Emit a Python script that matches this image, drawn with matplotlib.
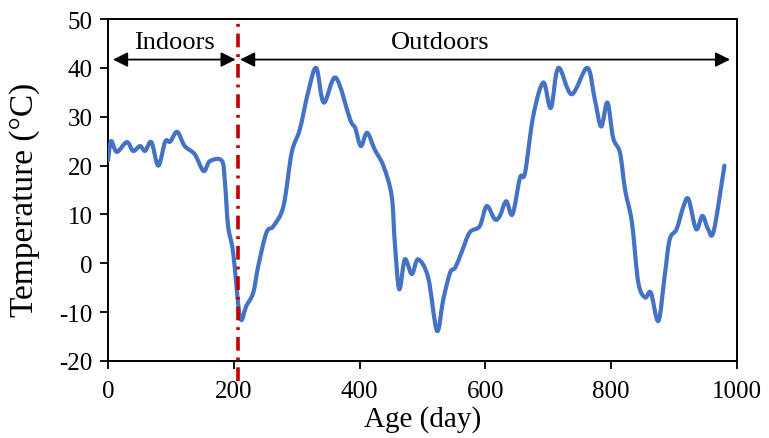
import matplotlib.pyplot as plt
from matplotlib.path import Path
from matplotlib.patches import PathPatch

plt.rcParams['font.family'] = ['Liberation Serif', 'DejaVu Serif']
plt.rcParams['axes.unicode_minus'] = False

# temperature record
age_days = [0, 5, 14, 30, 40, 51, 59, 69, 80, 91, 99, 110, 122, 138, 152, 162,
            181, 186, 191, 199, 210, 220, 231, 239, 252, 263, 279, 292, 305, 318,
            331, 343, 362, 385, 393, 402, 412, 424, 438, 451, 456, 463, 472, 483,
            493, 509, 523, 533, 544, 552, 562, 575, 591, 602, 615, 623, 633, 643,
            655, 663, 676, 692, 704, 716, 737, 762, 774, 784, 794, 803, 814, 822,
            833, 843, 854, 863, 875, 885, 893, 904, 915, 923, 935, 945, 954, 963,
            980]
temp_c = [21, 25, 22.8, 24.8, 23, 24, 23, 24.8, 20, 24.9, 24.9, 26.9, 24, 22.3,
          18.9, 20.9, 21, 16.5, 7.6, 2.2, -11.1, -8.7, -6, -0.5, 6.3, 7.6, 11.7,
          22.6, 27.4, 34.9, 40, 32.9, 38, 29.4, 27.7, 24, 26.7, 23.3, 19.9, 13.8,
          4.2, -5.3, 0.8, -2.2, 0.8, -2.9, -13.8, -7.4, -1.9, -0.9, 2.2, 6.3, 7.6,
          11.7, 9, 9.7, 12.7, 10, 17.5, 18.5, 30.1, 37, 31.8, 40, 34.6, 40, 33.5,
          28, 32.9, 25.7, 22.6, 15.1, 8.3, -3.9, -7, -6, -11.8, -2.6, 4.9, 7, 11.7,
          13.1, 7, 9.7, 7, 6.6, 20]

split_day = 207
indoor_span = (8, 203)
outdoor_span = (210, 989)
arrow_y = 41.7


def smooth_path(xs, ys):
    """Catmull-Rom curve through the points, as cubic Bezier segments."""
    pts = list(zip(xs, ys))
    verts = [pts[0]]
    codes = [Path.MOVETO]
    n = len(pts)
    for i in range(n - 1):
        p0 = pts[i - 1] if i > 0 else pts[i]
        p1 = pts[i]
        p2 = pts[i + 1]
        p3 = pts[i + 2] if i + 2 < n else pts[i + 1]
        c1 = (p1[0] + (p2[0] - p0[0]) / 6, p1[1] + (p2[1] - p0[1]) / 6)
        c2 = (p2[0] - (p3[0] - p1[0]) / 6, p2[1] - (p3[1] - p1[1]) / 6)
        verts += [c1, c2, p2]
        codes += [Path.CURVE4] * 3
    return Path(verts, codes)


fig = plt.figure(figsize=(7.69, 4.39), dpi=100)
ax = fig.add_axes([0.1404, 0.1754, 0.818, 0.779])

ax.add_patch(PathPatch(smooth_path(age_days, temp_c), fill=False,
                       edgecolor='#4472C4', lw=3.0, capstyle='round',
                       joinstyle='round', zorder=3))

ax.plot([split_day, split_day], [-24.0, 50.4], color='#C00000', lw=2.6,
        ls=(0, (3.8, 1.9, 0.8, 1.9)), clip_on=False, zorder=4)

arrow_kw = dict(arrowstyle='<|-|>', color='black', lw=1.3,
                mutation_scale=22, shrinkA=0, shrinkB=0)
ax.annotate('', xy=(indoor_span[0], arrow_y), xytext=(indoor_span[1], arrow_y),
            arrowprops=arrow_kw)
ax.annotate('', xy=(outdoor_span[0], arrow_y), xytext=(outdoor_span[1], arrow_y),
            arrowprops=arrow_kw)
ax.text(106, 45.3, 'Indoors', ha='center', va='center', fontsize=19)
ax.text(528, 45.3, 'Outdoors', ha='center', va='center', fontsize=19)

ax.set_xlim(0, 1000)
ax.set_ylim(-20, 50)
ax.set_xticks(range(0, 1001, 200))
ax.set_yticks(range(-20, 51, 10))
ax.tick_params(direction='out', length=6, width=1.3, labelsize=18)
ax.tick_params(axis='x', pad=8)
ax.tick_params(axis='y', pad=5)
for s in ax.spines.values():
    s.set_linewidth(1.4)

ax.set_xlabel('Age (day)', fontsize=21, labelpad=2)
ax.set_ylabel('Temperature (°C)', fontsize=24)
ax.yaxis.set_label_coords(-0.108, 0.474)

fig.savefig('out.png', dpi=100)
